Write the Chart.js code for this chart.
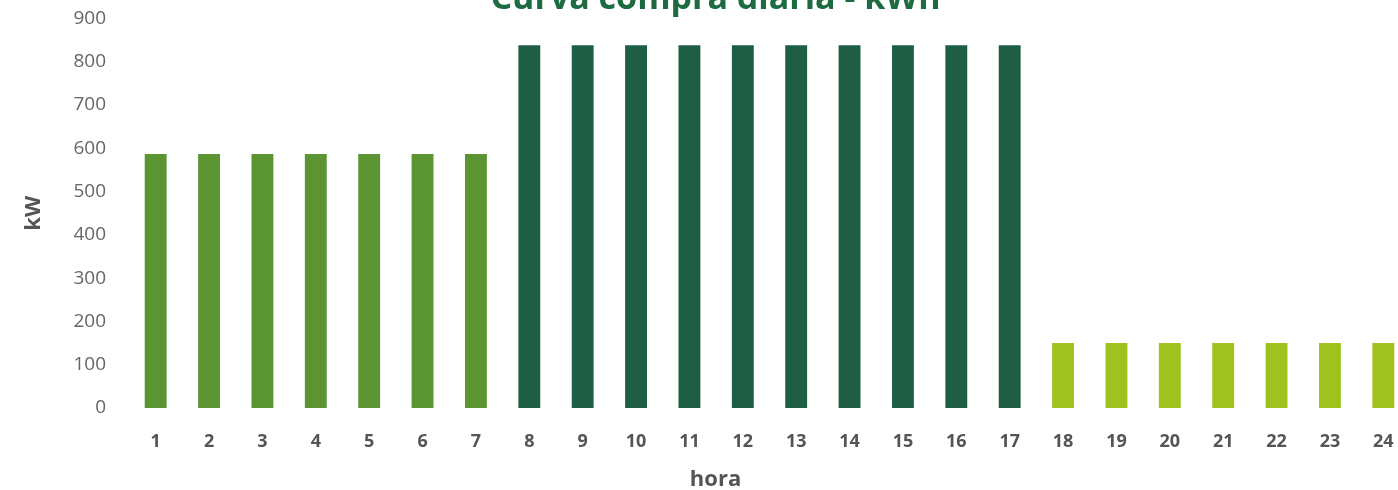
<!DOCTYPE html>
<html>
<head>
<meta charset="utf-8">
<script src="https://cdn.jsdelivr.net/npm/chart.js@4.4.0/dist/chart.umd.min.js"></script>
<style>
  html, body { margin: 0; padding: 0; background: #fff; overflow: hidden; }
  #wrap { position: absolute; left: 0; top: -25px; }
</style>
</head>
<body>
<div id="wrap"><canvas id="compraChart" width="1436" height="533"></canvas></div>
<script>
// horas del día
const horas = ['1','2','3','4','5','6','7','8','9','10','11','12','13','14','15','16','17','18','19','20','21','22','23','24'];
// potencia comprada por hora (kW)
const potencia = [587, 587, 587, 587, 587, 587, 587,
                  838, 838, 838, 838, 838, 838, 838, 838, 838, 838,
                  150, 150, 150, 150, 150, 150, 150];
// periodo tarifario de cada hora
const periodo = ['llano','llano','llano','llano','llano','llano','llano',
                 'punta','punta','punta','punta','punta','punta','punta','punta','punta','punta',
                 'valle','valle','valle','valle','valle','valle','valle'];
const yTicks = [0, 100, 200, 300, 400, 500, 600, 700, 800, 900];

const colores = { llano: '#5b9532', punta: '#1d5e45', valle: '#a0c21e' };

const ctx = document.getElementById('compraChart').getContext('2d');
new Chart(ctx, {
    type: 'bar',
    data: {
        labels: horas,
        datasets: [{
            label: 'kW',
            data: potencia,
            backgroundColor: periodo.map(p => colores[p]),
            barPercentage: 0.41,
            categoryPercentage: 1.0
        }]
    },
    options: {
        responsive: false,
        animation: false,
        layout: { padding: { left: 21, right: 26, top: 0, bottom: 0 } },
        plugins: {
            legend: { display: false },
            tooltip: { enabled: false },
            title: {
                display: true,
                text: 'Curva compra diaria - kWh',
                color: '#1d6b41',
                font: { family: 'Open Sans', size: 34, weight: 'bold', lineHeight: 1.1 },
                padding: { top: 6, bottom: 0 }
            },
            subtitle: {
                display: true,
                position: 'bottom',
                text: 'hora',
                color: '#555',
                font: { family: 'Open Sans', size: 22, weight: 'bold' },
                padding: { top: 10, bottom: 15 }
            }
        },
        scales: {
            x: {
                grid: { display: false, drawTicks: true, tickLength: 19 },
                border: { display: false },
                ticks: {
                    color: '#555',
                    padding: 4,
                    font: { family: 'Open Sans', size: 18, weight: 'bold' }
                }
            },
            y: {
                min: 0,
                max: 900,
                grid: { display: false, drawTicks: true, tickLength: 3 },
                border: { display: false },
                afterBuildTicks: axis => { axis.ticks = yTicks.map(v => ({ value: v })); },
                ticks: {
                    color: '#666',
                    padding: 20,
                    font: { family: 'Open Sans', size: 19 }
                },
                title: {
                    display: true,
                    text: 'kW',
                    color: '#555',
                    font: { family: 'Open Sans', size: 22, weight: 'bold' },
                    padding: { top: 0, bottom: 6 }
                }
            }
        }
    }
});
</script>
</body>
</html>
